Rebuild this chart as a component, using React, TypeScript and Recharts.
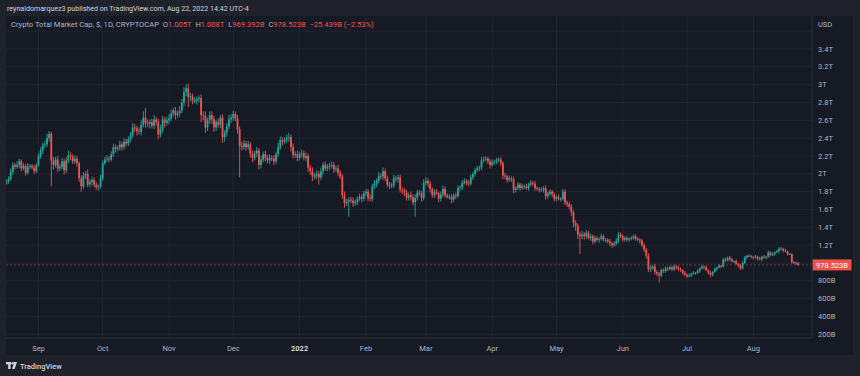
import React from 'react';
import { ComposedChart, Bar, XAxis, YAxis, CartesianGrid, ReferenceLine } from 'recharts';

const FONT = 'Roboto, "Noto Sans", "DejaVu Sans", sans-serif';
const GREEN = '#26a69a';
const RED = '#ef5350';
const FRAME = '#1f222a';
const PANE = '#161a25';
const GRID = '#212532';
const AXIS = '#2a2e39';
const TEXT = '#b2b5be';

// Daily closes in trillions USD (Aug 17 2021 .. Aug 22 2022)
const closesAug21 = [1.92, 1.94, 2.02, 2.10, 2.08, 2.10, 2.14, 2.06, 2.09, 2.01, 2.08, 2.09, 2.07, 2.03, 2.10];
const closesSep21 = [2.20, 2.26, 2.32, 2.33, 2.40, 2.45, 2.15, 2.10, 2.16, 2.06, 2.08, 2.14, 2.04, 2.15, 2.21, 2.19, 2.14, 2.17, 2.12, 1.95, 1.86, 1.98, 2.00, 1.88, 1.91, 1.93, 1.88, 1.85, 1.86, 1.95];
const closesOct21 = [2.12, 2.16, 2.17, 2.16, 2.22, 2.30, 2.28, 2.29, 2.33, 2.30, 2.36, 2.34, 2.39, 2.43, 2.52, 2.51, 2.48, 2.47, 2.55, 2.63, 2.57, 2.56, 2.58, 2.54, 2.61, 2.58, 2.44, 2.50, 2.61, 2.57, 2.60];
const closesNov21 = [2.62, 2.68, 2.71, 2.66, 2.68, 2.71, 2.80, 2.92, 2.96, 2.86, 2.87, 2.82, 2.82, 2.84, 2.85, 2.66, 2.65, 2.52, 2.60, 2.66, 2.61, 2.52, 2.58, 2.55, 2.63, 2.41, 2.46, 2.53, 2.61, 2.63];
const closesDec21 = [2.67, 2.62, 2.50, 2.31, 2.30, 2.34, 2.30, 2.33, 2.22, 2.18, 2.23, 2.26, 2.10, 2.16, 2.22, 2.18, 2.15, 2.18, 2.17, 2.14, 2.22, 2.30, 2.38, 2.36, 2.38, 2.40, 2.41, 2.30, 2.21, 2.22, 2.18];
const closesJan22 = [2.22, 2.23, 2.18, 2.20, 2.07, 2.03, 1.97, 1.98, 2.00, 1.96, 2.03, 2.10, 2.06, 2.08, 2.09, 2.10, 2.05, 2.06, 2.01, 1.97, 1.76, 1.67, 1.69, 1.71, 1.70, 1.67, 1.68, 1.72, 1.74, 1.72, 1.78];
const closesFeb22 = [1.80, 1.73, 1.72, 1.86, 1.89, 1.92, 1.98, 1.97, 2.03, 1.95, 1.88, 1.87, 1.87, 1.95, 1.94, 1.96, 1.82, 1.81, 1.79, 1.73, 1.76, 1.74, 1.68, 1.73, 1.79, 1.78, 1.73, 1.90];
const closesMar22 = [1.92, 1.89, 1.83, 1.76, 1.80, 1.78, 1.72, 1.77, 1.83, 1.76, 1.74, 1.74, 1.71, 1.76, 1.75, 1.84, 1.85, 1.90, 1.92, 1.90, 1.89, 1.96, 2.00, 2.04, 2.06, 2.07, 2.15, 2.16, 2.17, 2.14, 2.10];
const closesApr22 = [2.13, 2.14, 2.15, 2.16, 2.12, 1.98, 1.97, 1.93, 1.95, 1.94, 1.82, 1.84, 1.88, 1.84, 1.86, 1.86, 1.84, 1.88, 1.90, 1.89, 1.84, 1.83, 1.82, 1.82, 1.84, 1.75, 1.78, 1.80, 1.77, 1.72];
const closesMay22 = [1.74, 1.72, 1.72, 1.80, 1.68, 1.66, 1.63, 1.57, 1.45, 1.42, 1.32, 1.30, 1.32, 1.30, 1.34, 1.28, 1.30, 1.24, 1.28, 1.26, 1.27, 1.30, 1.26, 1.26, 1.24, 1.22, 1.20, 1.22, 1.25, 1.32, 1.30];
const closesJun22 = [1.26, 1.28, 1.26, 1.27, 1.28, 1.30, 1.27, 1.26, 1.25, 1.20, 1.15, 1.08, 0.93, 0.94, 0.96, 0.90, 0.88, 0.86, 0.92, 0.91, 0.94, 0.93, 0.95, 0.93, 0.96, 0.95, 0.93, 0.92, 0.89, 0.87];
const closesJul22 = [0.85, 0.86, 0.88, 0.89, 0.89, 0.91, 0.94, 0.96, 0.95, 0.92, 0.89, 0.87, 0.90, 0.93, 0.95, 0.97, 0.96, 1.04, 1.03, 1.06, 1.04, 1.02, 1.02, 0.99, 0.97, 0.94, 1.00, 1.06, 1.08, 1.08, 1.07];
const closesAug22 = [1.06, 1.07, 1.05, 1.04, 1.07, 1.06, 1.07, 1.12, 1.09, 1.10, 1.12, 1.13, 1.16, 1.16, 1.14, 1.13, 1.10, 1.10, 1.01, 0.998, 1.004, 0.9785];

// Upper / lower wick lengths in units of 10B
const wickUpAug21 = [2, 3, 4, 3, 2, 4, 3, 2, 3, 2, 4, 2, 2, 3, 2];
const wickDnAug21 = [2, 3, 2, 3, 3, 2, 4, 3, 2, 3, 2, 3, 2, 3, 2];
const wickUpSep21 = [3, 4, 3, 4, 5, 3, 2, 4, 3, 4, 3, 4, 3, 4, 5, 3, 3, 4, 3, 2, 3, 4, 3, 5, 3, 4, 3, 3, 2, 4];
const wickDnSep21 = [2, 3, 4, 3, 3, 4, 29, 5, 3, 4, 3, 3, 5, 3, 3, 4, 3, 3, 4, 4, 6, 3, 4, 3, 3, 4, 3, 3, 4, 2];
const wickUpOct21 = [3, 3, 4, 3, 3, 4, 3, 3, 4, 3, 4, 3, 3, 4, 5, 4, 3, 4, 5, 7, 11, 4, 3, 4, 5, 3, 4, 5, 4, 3, 4];
const wickDnOct21 = [3, 2, 3, 3, 2, 3, 4, 3, 3, 4, 3, 3, 3, 4, 3, 4, 5, 3, 4, 3, 5, 4, 5, 3, 4, 4, 5, 3, 4, 5, 3];
const wickUpNov21 = [5, 4, 3, 4, 3, 5, 4, 5, 4, 5, 4, 3, 4, 3, 3, 4, 4, 5, 3, 4, 4, 4, 3, 4, 3, 4, 3, 4, 5, 4];
const wickDnNov21 = [4, 3, 4, 5, 3, 4, 3, 4, 5, 11, 5, 4, 3, 4, 4, 8, 5, 6, 4, 4, 5, 5, 4, 3, 4, 6, 5, 4, 3, 4];
const wickUpDec21 = [4, 3, 4, 3, 5, 4, 3, 4, 3, 4, 3, 4, 3, 4, 3, 4, 3, 4, 3, 4, 3, 5, 4, 3, 3, 4, 5, 3, 4, 3, 4];
const wickDnDec21 = [4, 3, 5, 35, 4, 3, 4, 3, 4, 5, 3, 4, 5, 4, 3, 4, 3, 4, 3, 4, 3, 3, 3, 4, 3, 3, 4, 5, 4, 3, 4];
const wickUpJan22 = [3, 4, 3, 4, 3, 3, 4, 3, 4, 3, 4, 3, 4, 3, 3, 4, 3, 3, 4, 3, 3, 4, 3, 3, 3, 4, 3, 3, 4, 3, 3];
const wickDnJan22 = [3, 4, 3, 4, 5, 4, 5, 3, 4, 8, 3, 4, 3, 3, 4, 3, 4, 3, 4, 3, 4, 5, 3, 17, 3, 4, 3, 3, 3, 4, 3];
const wickUpFeb22 = [3, 3, 4, 3, 4, 3, 4, 3, 4, 3, 3, 3, 3, 4, 3, 3, 3, 3, 3, 3, 3, 4, 3, 4, 3, 3, 3, 4];
const wickDnFeb22 = [3, 4, 3, 3, 3, 4, 3, 3, 4, 3, 3, 4, 3, 3, 3, 4, 3, 4, 4, 3, 3, 4, 3, 16, 3, 3, 4, 3];
const wickUpMar22 = [4, 3, 3, 2, 3, 3, 2, 3, 4, 3, 2, 3, 3, 2, 3, 3, 2, 3, 3, 2, 3, 3, 2, 3, 3, 2, 4, 3, 3, 2, 3];
const wickDnMar22 = [3, 4, 4, 3, 3, 2, 4, 3, 3, 3, 2, 3, 4, 3, 3, 2, 3, 3, 2, 3, 3, 2, 3, 3, 2, 3, 3, 3, 2, 3, 4];
const wickUpApr22 = [3, 2, 3, 2, 3, 2, 3, 2, 3, 2, 3, 2, 3, 2, 3, 2, 3, 2, 3, 2, 3, 2, 2, 3, 2, 3, 2, 3, 2, 2];
const wickDnApr22 = [2, 3, 3, 2, 3, 4, 3, 3, 2, 3, 4, 3, 2, 3, 2, 3, 2, 3, 2, 3, 3, 2, 3, 2, 3, 4, 3, 2, 3, 3];
const wickUpMay22 = [2, 3, 2, 3, 3, 2, 3, 3, 2, 3, 2, 3, 4, 3, 3, 2, 3, 2, 3, 2, 2, 3, 2, 2, 2, 3, 2, 2, 3, 3, 2];
const wickDnMay22 = [3, 2, 3, 2, 3, 3, 3, 4, 5, 6, 5, 20, 3, 4, 3, 2, 3, 3, 2, 2, 3, 2, 2, 3, 2, 3, 3, 2, 2, 3, 2];
const wickUpJun22 = [2, 2, 2, 2, 2, 2, 2, 2, 2, 2, 2, 2, 3, 3, 2, 3, 2, 2, 2, 2, 2, 2, 2, 2, 2, 2, 2, 2, 1, 2];
const wickDnJun22 = [2, 2, 2, 2, 2, 2, 2, 2, 3, 2, 3, 3, 3, 3, 2, 3, 3, 8, 2, 2, 2, 2, 1, 2, 2, 2, 2, 2, 2, 2];
const wickUpJul22 = [1, 2, 1, 2, 1, 2, 1, 2, 1, 2, 1, 2, 1, 2, 1, 2, 1, 2, 2, 1, 2, 2, 1, 2, 1, 2, 2, 2, 1, 2, 1];
const wickDnJul22 = [2, 1, 2, 1, 2, 1, 2, 1, 2, 1, 2, 3, 2, 1, 2, 1, 2, 1, 2, 1, 2, 1, 2, 1, 2, 2, 1, 1, 2, 1, 2];
const wickUpAug22 = [1, 2, 1, 2, 1, 2, 1, 2, 1, 2, 1, 2, 2, 2, 1, 2, 1, 1, 1, 1, 1, 0.4];
const wickDnAug22 = [2, 1, 2, 1, 2, 1, 2, 1, 2, 1, 2, 1, 2, 1, 2, 1, 2, 1, 2, 1, 2, 0.95];

const FIRST_OPEN = 1.9;
const LAST_CLOSE = 0.978523;

const closes = [
  ...closesAug21, ...closesSep21, ...closesOct21, ...closesNov21, ...closesDec21, ...closesJan22,
  ...closesFeb22, ...closesMar22, ...closesApr22, ...closesMay22, ...closesJun22, ...closesJul22, ...closesAug22,
];
const wickUp = [
  ...wickUpAug21, ...wickUpSep21, ...wickUpOct21, ...wickUpNov21, ...wickUpDec21, ...wickUpJan22,
  ...wickUpFeb22, ...wickUpMar22, ...wickUpApr22, ...wickUpMay22, ...wickUpJun22, ...wickUpJul22, ...wickUpAug22,
];
const wickDn = [
  ...wickDnAug21, ...wickDnSep21, ...wickDnOct21, ...wickDnNov21, ...wickDnDec21, ...wickDnJan22,
  ...wickDnFeb22, ...wickDnMar22, ...wickDnApr22, ...wickDnMay22, ...wickDnJun22, ...wickDnJul22, ...wickDnAug22,
];

// Axis ticks: day index (0 = Aug 17 2021) of month starts
const tickDays = [15, 45, 76, 106, 137, 168, 196, 227, 257, 288, 318, 349];
const tickLabels = ['Sep', 'Oct', 'Nov', 'Dec', '2022', 'Feb', 'Mar', 'Apr', 'May', 'Jun', 'Jul', 'Aug'];
const priceTicks = [0.2, 0.4, 0.6, 0.8, 1.2, 1.4, 1.6, 1.8, 2, 2.2, 2.4, 2.6, 2.8, 3, 3.2, 3.4];
const gridValues = [0.2, 0.4, 0.6, 0.8, 1.0, 1.2, 1.4, 1.6, 1.8, 2, 2.2, 2.4, 2.6, 2.8, 3, 3.2, 3.4, 3.6];

const data = closes.map((c, i) => {
  const open = i === 0 ? FIRST_OPEN : closes[i - 1];
  const high = Math.max(open, c) + (wickUp[i] ?? 1) / 100;
  const low = Math.min(open, c) - (wickDn[i] ?? 1) / 100;
  return { d: i, open, close: c, high, low, range: [low, high] };
});

const fmtPrice = (v: number) => (v < 1 ? `${Math.round(v * 1000)}B` : `${Number(v.toFixed(1))}T`);

const Candle = (props: any) => {
  const { x, y, width, height, payload } = props;
  if (!payload || x == null || y == null) return null;
  const { open, close, high, low } = payload;
  const color = close >= open ? GREEN : RED;
  const span = high - low;
  const toY = (v: number) => (span > 0 ? y + ((high - v) / span) * height : y);
  const cx = x + width / 2;
  const top = toY(Math.max(open, close));
  const bot = toY(Math.min(open, close));
  const bh = Math.max(bot - top, 0.9);
  return (
    <g>
      <line x1={cx} x2={cx} y1={y} y2={y + height} stroke={color} strokeWidth={0.9} />
      <rect x={cx - 0.9} y={top} width={1.8} height={bh} fill={color} />
    </g>
  );
};

const XTick = (props: any) => {
  const { x, y, payload } = props;
  const i = tickDays.indexOf(payload.value);
  const label = tickLabels[i] ?? '';
  const bold = label === '2022';
  return (
    <text x={x} y={y} dy={12.6} textAnchor="middle" fill={bold ? '#d1d4dc' : TEXT} fontSize={7.5} fontWeight={bold ? 700 : 400} fontFamily={FONT}>
      {label}
    </text>
  );
};

const YTick = (props: any) => {
  const { x, y, payload } = props;
  return (
    <text x={x} y={y} dy="0.35em" textAnchor="start" fill={TEXT} fontSize={7.5} fontFamily={FONT}>
      {fmtPrice(payload.value)}
    </text>
  );
};

const PriceTag = (props: any) => {
  const vb = props.viewBox || {};
  const x0 = (vb.x ?? 0) + (vb.width ?? 0);
  const yc = vb.y ?? 0;
  return (
    <g>
      <rect x={x0 + 0.5} y={yc - 5.5} width={39} height={11} fill="#f0504a" />
      <text x={x0 + 20} y={yc} dy="0.35em" textAnchor="middle" fill="#ffffff" fontSize={7.5} fontFamily={FONT}>
        {`${(LAST_CLOSE * 1000).toFixed(3)}B`}
      </text>
    </g>
  );
};

export default function App() {
  return (
    <div style={{ position: 'fixed', left: 0, top: 0, width: 860, height: 376, background: FRAME, fontFamily: FONT, overflow: 'hidden' }}>
      <div style={{ position: 'absolute', left: 7, top: 3, fontSize: 7.1, lineHeight: '12px', color: '#d1d4dc', whiteSpace: 'nowrap' }}>
        reynaldomarquez3 published on TradingView.com, Aug 22, 2022 14:42 UTC-4
      </div>
      <div style={{ position: 'absolute', left: 6, top: 16, width: 847, height: 339, background: PANE }}>
        <ComposedChart width={847} height={339} data={data} margin={{ top: 0, right: 0, bottom: 0, left: 0 }}>
          <CartesianGrid stroke={GRID} horizontalValues={gridValues} verticalValues={tickDays} />
          <XAxis
            dataKey="d"
            type="number"
            domain={[-0.2, 376.4]}
            ticks={tickDays}
            allowDataOverflow
            height={17}
            axisLine={{ stroke: AXIS }}
            tickLine={false}
            tickSize={0}
            tickMargin={0}
            tick={<XTick />}
            interval={0}
          />
          <YAxis
            orientation="right"
            type="number"
            domain={[0.159, 3.77]}
            ticks={priceTicks}
            allowDataOverflow
            width={41}
            axisLine={{ stroke: AXIS }}
            tickLine={false}
            tickSize={0}
            tickMargin={6}
            tick={<YTick />}
            interval={0}
          />
          <ReferenceLine y={LAST_CLOSE} stroke={RED} strokeOpacity={0.45} strokeDasharray="2 2" label={<PriceTag />} />
          <Bar dataKey="range" shape={(p: any) => <Candle {...p} />} barSize={2} isAnimationActive={false} />
        </ComposedChart>
        <div style={{ position: 'absolute', left: 5, top: 3, fontSize: 7.6, lineHeight: '12px', color: TEXT, whiteSpace: 'nowrap' }}>
          Crypto Total Market Cap, $, 1D, CRYPTOCAP&nbsp;&nbsp;O<span style={{ color: RED }}>1.005T</span>&nbsp;&nbsp;H<span style={{ color: RED }}>1.008T</span>&nbsp;&nbsp;L<span style={{ color: RED }}>969.392B</span>&nbsp;&nbsp;C<span style={{ color: RED }}>978.523B</span>&nbsp;&nbsp;<span style={{ color: RED }}>−25.439B (−2.53%)</span>
        </div>
        <div style={{ position: 'absolute', left: 812, top: 3, fontSize: 7.5, lineHeight: '12px', color: TEXT }}>USD</div>
      </div>
      <svg style={{ position: 'absolute', left: 0, top: 358 }} width={80} height={16}>
        <rect x={6} y={4} width={5} height={2.4} fill="#d1d4dc" />
        <rect x={8.2} y={4} width={2.4} height={7} fill="#d1d4dc" />
        <circle cx={12.6} cy={5.2} r={1.2} fill="#d1d4dc" />
        <path d="M14 4 L17 4 L14.6 11 L12.2 11 Z" fill="#d1d4dc" />
        <text x={20} y={8} dy="0.35em" fill="#d1d4dc" fontSize={7.5} fontWeight={500} fontFamily={FONT}>TradingView</text>
      </svg>
    </div>
  );
}
